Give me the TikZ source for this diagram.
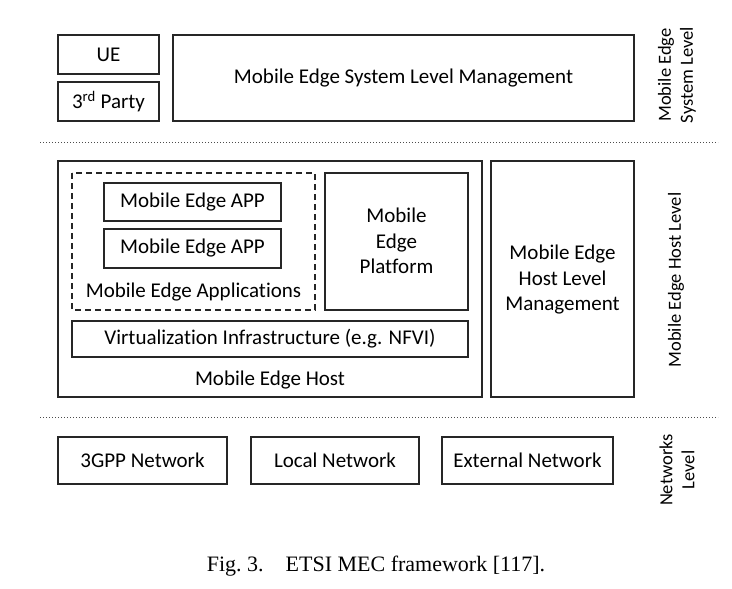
\documentclass[tikz,border=0pt]{standalone}
\usepackage{fontspec}
\setmainfont{Carlito}[Ligatures=NoCommon]
\newfontfamily\capfont{Liberation Serif}
\begin{document}
\begin{tikzpicture}[x=1pt,y=-1pt,
  bx/.style={draw=black!85,line width=1.3pt,inner sep=0pt},
  lbl/.style={font=\fontsize{21}{25.5}\selectfont,align=center},
  vlbl/.style={font=\fontsize{18.5}{22}\selectfont,align=center,rotate=90},
  sep/.style={draw=black!70,line width=1pt,dotted}]
\useasboundingbox (0,0) rectangle (732,589);
% system level
\draw[bx] (58,35) rectangle (159,74);
\node[lbl] (ue) at (108.5,54.5) {UE};
\draw[bx] (58,82) rectangle (159,121);
\node[lbl] (tp) at (108.5,101.5) {3\textsuperscript{rd} Party};
\draw[bx] (173,35) rectangle (634,121);
\node[lbl] (sys) at (403.5,78) {Mobile Edge System Level Management};
\node[vlbl] (sysl) at (677,75) {Mobile Edge\\System Level};
\coordinate (d1a) at (40,142);
\coordinate (d1b) at (718,142);
\draw[sep] (d1a) -- (d1b);
% host level
\draw[bx] (58,161) rectangle (482,397);
\draw[bx,dash pattern=on 6pt off 4pt,line width=1.1pt] (72,173) rectangle (315,310);
\draw[bx] (104,183) rectangle (281,221);
\node[lbl] (app1) at (192.5,202) {Mobile Edge APP};
\draw[bx] (104,229) rectangle (281,268);
\node[lbl] (app2) at (192.5,248.5) {Mobile Edge APP};
\node[lbl] (apps) at (193.5,292) {Mobile Edge Applications};
\draw[bx] (325,173) rectangle (468,310);
\node[lbl] (plat) at (396.5,241) {Mobile\\Edge\\Platform};
\draw[bx] (72,321) rectangle (468,357);
\node[lbl] (virt) at (270,339) {Virtualization Infrastructure (e.g. NFVI)};
\node[lbl] (host) at (270,380) {Mobile Edge Host};
\draw[bx] (491,161) rectangle (634,397);
\node[lbl] (hlm) at (562.5,280) {Mobile Edge\\Host Level\\Management};
\node[vlbl] (hostl) at (676,280) {Mobile Edge Host Level};
\coordinate (d2a) at (40,417);
\coordinate (d2b) at (718,417);
\draw[sep] (d2a) -- (d2b);
% networks
\draw[bx] (58,437) rectangle (227,484);
\node[lbl] (n1) at (142.5,460.5) {3GPP Network};
\draw[bx] (251,437) rectangle (419,484);
\node[lbl] (n2) at (335,460.5) {Local Network};
\draw[bx] (442,437) rectangle (613,484);
\node[lbl] (n3) at (527.5,460.5) {External Network};
\node[vlbl] (netl) at (677,470) {Networks\\Level};
% caption
\node[font=\capfont\fontsize{22}{26}\selectfont] (cap) at (376,566) {Fig.~3.\quad ETSI MEC framework [117].};
\end{tikzpicture}
\end{document}
